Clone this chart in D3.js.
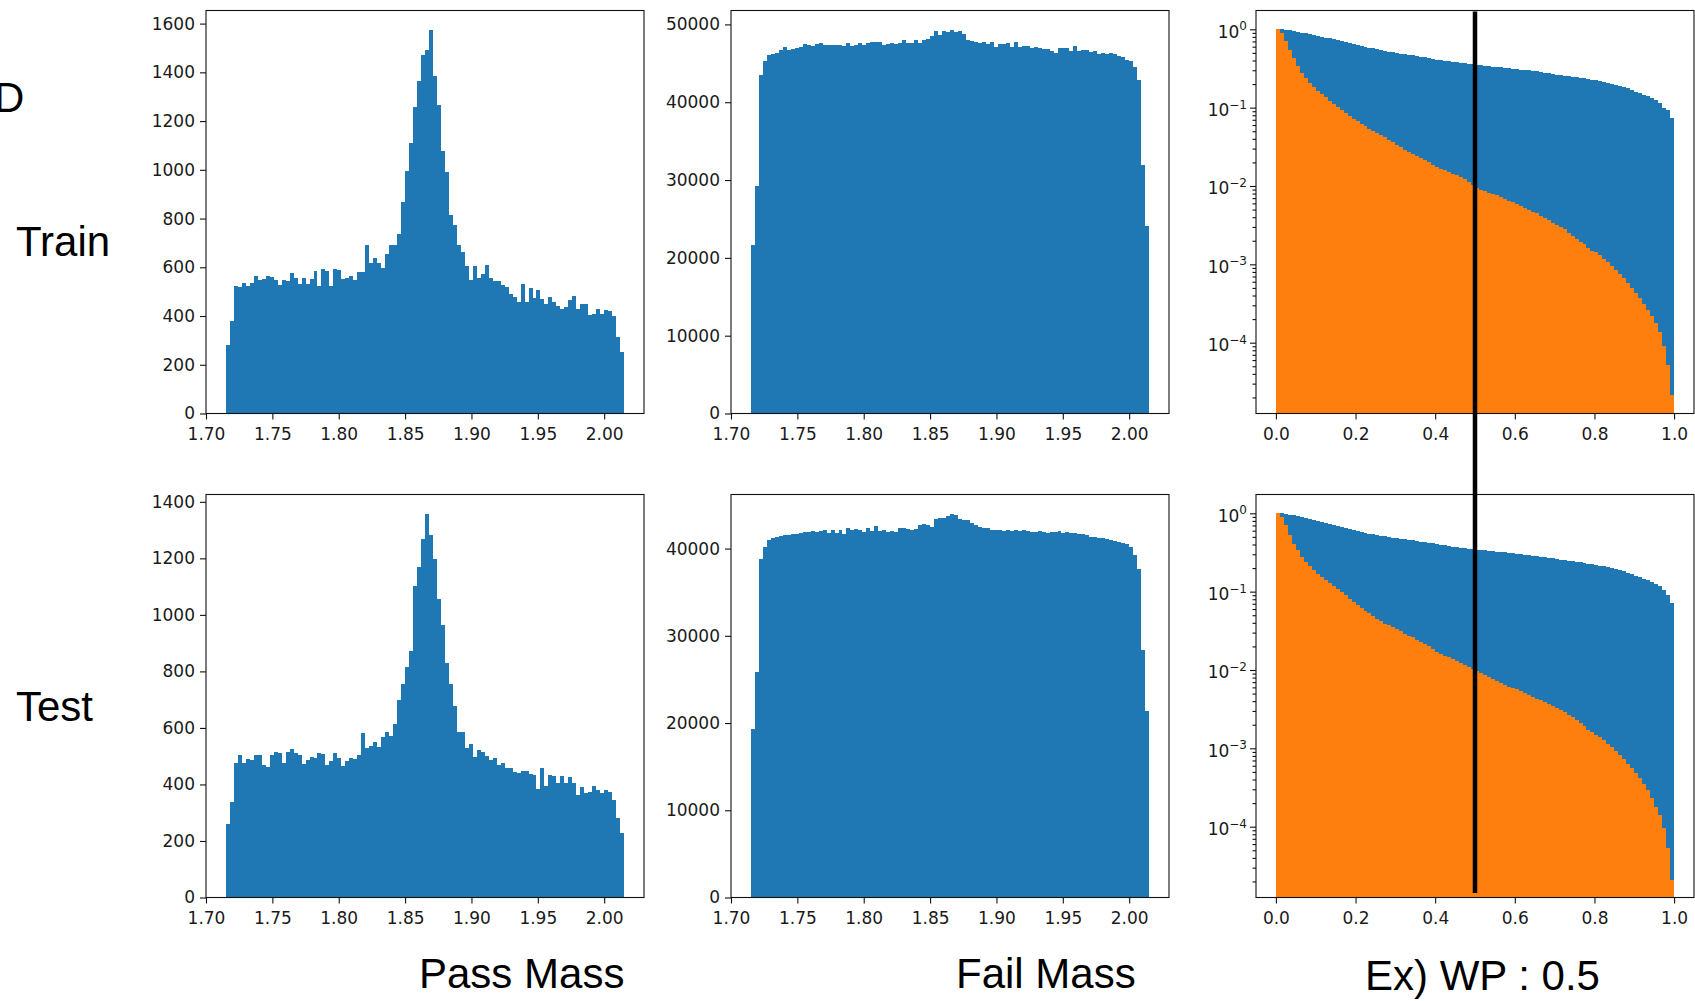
<!DOCTYPE html>
<html>
<head>
<meta charset="utf-8">
<script src="https://cdn.jsdelivr.net/npm/d3@7"></script>
<style>
  body { margin: 0; background: #fff; }
  svg { display: block; }
</style>
</head>
<body>
<svg id="fig" width="1695" height="1001"></svg>
<script>
// ---- data -------------------------------------------------------------
// D0 candidate mass histograms (100 bins on [1.715, 2.015])
const massRange = [1.715, 2.015];

const passTrain = [
  280, 380, 522, 520, 535, 522, 535, 563, 546, 553,
  563, 560, 546, 526, 546, 542, 577, 557, 533, 557,
  533, 553, 583, 523, 594, 585, 523, 594, 590, 552,
  557, 566, 549, 580, 580, 693, 617, 640, 617, 597,
  656, 693, 690, 738, 868, 997, 1110, 1257, 1366, 1472,
  1490, 1575, 1383, 1264, 1077, 993, 816, 772, 693, 663,
  605, 549, 605, 557, 574, 608, 557, 542, 542, 529,
  520, 489, 478, 458, 530, 458, 515, 474, 508, 469,
  451, 478, 458, 440, 428, 437, 465, 481, 428, 451,
  451, 403, 410, 430, 410, 424, 421, 400, 314, 253
];

const passTest = [
  259, 337, 477, 504, 477, 490, 486, 504, 504, 469,
  463, 504, 516, 510, 477, 516, 527, 512, 504, 472,
  486, 498, 492, 512, 508, 469, 483, 512, 492, 466,
  483, 495, 489, 504, 581, 530, 536, 550, 534, 569,
  584, 572, 613, 699, 754, 814, 872, 1101, 1170, 1270,
  1358, 1282, 1199, 1055, 964, 830, 757, 679, 584, 584,
  528, 543, 496, 522, 516, 501, 486, 495, 469, 475,
  459, 457, 445, 439, 448, 448, 436, 434, 383, 459,
  395, 434, 430, 406, 430, 406, 428, 404, 363, 390,
  371, 372, 395, 380, 371, 380, 375, 345, 280, 227
];

const failTrain = [
  21700, 29200, 43460, 45260, 46030, 46240, 46370, 46670, 47100, 46760,
  46880, 46970, 47100, 47440, 47310, 47180, 47440, 47610, 47310, 47400,
  47310, 47400, 47400, 47230, 47610, 47180, 47310, 47610, 47400, 47650,
  47740, 47740, 47740, 47310, 47440, 47610, 47530, 47610, 48040, 47650,
  47610, 48040, 47610, 47960, 48080, 48470, 49110, 48680, 49150, 49020,
  49320, 49020, 49110, 48810, 48040, 47830, 47740, 47650, 47740, 47530,
  47740, 47100, 47530, 47530, 47650, 47100, 47740, 47100, 47230, 47230,
  47010, 47100, 47010, 46840, 46880, 46630, 46370, 47010, 47010, 46970,
  46630, 47230, 46630, 46760, 46670, 46500, 46590, 46240, 46370, 46240,
  46370, 46160, 45950, 45860, 45430, 45300, 44580, 42870, 31970, 24050
];

const failTest = [
  19270, 25880, 38850, 40180, 40950, 41210, 41330, 41440, 41600, 41600,
  41710, 41710, 41790, 41900, 41900, 41980, 41900, 41980, 42090, 41820,
  42090, 41820, 42090, 41710, 42360, 42090, 42290, 42170, 41900, 42360,
  42010, 42550, 42010, 42090, 41900, 42010, 41900, 42400, 42360, 42210,
  42090, 42290, 42740, 42860, 42660, 42470, 43430, 43500, 43500, 43690,
  44000, 43810, 43430, 43320, 43320, 42970, 42740, 42470, 42400, 42400,
  42170, 42090, 42090, 42010, 42170, 42010, 42090, 42010, 42170, 42010,
  41900, 41900, 42010, 41900, 41790, 41900, 41900, 42010, 41790, 41900,
  41820, 41790, 41710, 41640, 41600, 41370, 41330, 41250, 41210, 41130,
  40950, 40860, 40750, 40630, 40560, 40180, 39230, 37620, 28360, 21410
];

// Efficiency above each working point (100 bins on [0, 1])
const wpRange = [0, 1];

const wpTrainBlue = [
  1.0, 1.0, 0.985, 0.97, 0.95, 0.93, 0.91, 0.89, 0.865, 0.84,
  0.82, 0.80, 0.785, 0.765, 0.75, 0.73, 0.71, 0.69, 0.67, 0.65,
  0.63, 0.615, 0.60, 0.585, 0.57, 0.56, 0.545, 0.535, 0.52, 0.51,
  0.50, 0.49, 0.48, 0.47, 0.465, 0.455, 0.445, 0.437, 0.428, 0.42,
  0.41, 0.405, 0.398, 0.39, 0.385, 0.38, 0.375, 0.368, 0.362, 0.357,
  0.352, 0.347, 0.342, 0.338, 0.334, 0.33, 0.326, 0.322, 0.318, 0.314,
  0.31, 0.306, 0.302, 0.298, 0.294, 0.29, 0.285, 0.28, 0.275, 0.268,
  0.262, 0.258, 0.254, 0.25, 0.247, 0.244, 0.24, 0.236, 0.232, 0.228,
  0.225, 0.22, 0.214, 0.208, 0.202, 0.195, 0.19, 0.184, 0.176, 0.168,
  0.16, 0.153, 0.146, 0.139, 0.132, 0.126, 0.115, 0.10, 0.092, 0.073
];

const wpTrainOrange = [
  1.0, 0.89, 0.70, 0.54, 0.43, 0.34, 0.28, 0.24, 0.205, 0.185,
  0.165, 0.15, 0.136, 0.123, 0.112, 0.102, 0.094, 0.086, 0.079, 0.072,
  0.067, 0.062, 0.058, 0.054, 0.051, 0.048, 0.045, 0.042, 0.039, 0.036,
  0.033, 0.031, 0.029, 0.027, 0.0255, 0.024, 0.0226, 0.0213, 0.02, 0.0188,
  0.0177, 0.0167, 0.0158, 0.015, 0.0143, 0.0137, 0.013, 0.0122, 0.0114, 0.0104,
  0.0093, 0.0089, 0.0086, 0.0082, 0.0079, 0.0076, 0.0072, 0.0068, 0.0065, 0.0062,
  0.0059, 0.0056, 0.0053, 0.005, 0.0047, 0.0045, 0.0042, 0.0039, 0.0037, 0.0034,
  0.0032, 0.003, 0.0028, 0.0025, 0.0023, 0.0021, 0.0019, 0.0018, 0.0016, 0.0015,
  0.00142, 0.0013, 0.00118, 0.00106, 0.00095, 0.00085, 0.00076, 0.00067, 0.00058, 0.0005,
  0.00043, 0.00037, 0.00031, 0.00026, 0.00022, 0.00018, 0.000135, 0.00009, 0.000052, 0.0000215
];

const wpTestBlue = [
  1.0, 1.0, 0.98, 0.965, 0.945, 0.92, 0.895, 0.87, 0.845, 0.82,
  0.79, 0.77, 0.75, 0.73, 0.71, 0.69, 0.67, 0.65, 0.63, 0.61,
  0.59, 0.575, 0.56, 0.55, 0.54, 0.53, 0.52, 0.51, 0.50, 0.49,
  0.48, 0.472, 0.465, 0.458, 0.45, 0.443, 0.436, 0.428, 0.42, 0.412,
  0.405, 0.398, 0.39, 0.383, 0.376, 0.37, 0.365, 0.36, 0.354, 0.349,
  0.344, 0.34, 0.336, 0.332, 0.328, 0.324, 0.32, 0.316, 0.312, 0.309,
  0.305, 0.301, 0.297, 0.293, 0.289, 0.285, 0.28, 0.275, 0.27, 0.265,
  0.26, 0.256, 0.252, 0.248, 0.244, 0.24, 0.236, 0.232, 0.228, 0.224,
  0.22, 0.215, 0.21, 0.205, 0.199, 0.193, 0.187, 0.181, 0.174, 0.167,
  0.16, 0.153, 0.147, 0.141, 0.134, 0.127, 0.118, 0.105, 0.09, 0.071
];

const wpTestOrange = [
  1.0, 0.9, 0.71, 0.53, 0.41, 0.34, 0.28, 0.24, 0.21, 0.19,
  0.17, 0.153, 0.14, 0.128, 0.118, 0.108, 0.098, 0.09, 0.081, 0.074,
  0.067, 0.062, 0.057, 0.053, 0.049, 0.045, 0.042, 0.039, 0.037, 0.035,
  0.033, 0.031, 0.029, 0.0275, 0.026, 0.0245, 0.023, 0.0215, 0.02, 0.0185,
  0.0172, 0.0162, 0.0153, 0.0145, 0.0138, 0.0131, 0.0124, 0.0117, 0.011, 0.0103,
  0.0096, 0.0091, 0.0086, 0.0081, 0.0077, 0.0073, 0.0069, 0.0065, 0.0061, 0.0059,
  0.0057, 0.0054, 0.0051, 0.0048, 0.0045, 0.0043, 0.0041, 0.0039, 0.0037, 0.0035,
  0.0033, 0.0031, 0.0029, 0.0027, 0.0025, 0.0023, 0.0021, 0.0019, 0.0017, 0.0016,
  0.0015, 0.00138, 0.00126, 0.00114, 0.00103, 0.00093, 0.00083, 0.00073, 0.00063, 0.00056,
  0.00049, 0.00042, 0.00035, 0.00029, 0.00023, 0.00018, 0.00014, 0.0000965, 0.000054, 0.000021
];

// tick values
const massTicks = [1.70, 1.75, 1.80, 1.85, 1.90, 1.95, 2.00];
const passTrainTicks = [0, 200, 400, 600, 800, 1000, 1200, 1400, 1600];
const passTestTicks = [0, 200, 400, 600, 800, 1000, 1200, 1400];
const failTrainTicks = [0, 10000, 20000, 30000, 40000, 50000];
const failTestTicks = [0, 10000, 20000, 30000, 40000];
const wpTicks = [0.0, 0.2, 0.4, 0.6, 0.8, 1.0];
const wpExponents = [0, -1, -2, -3, -4];
const wpCut = 0.5;

// text
const rowLabels = ["Train", "Test"];
const colLabels = ["Pass Mass", "Fail Mass", "Ex) WP : 0.5"];

// ---- layout -----------------------------------------------------------
const BLUE = "#1f77b4", ORANGE = "#ff7f0e";
const colX = [206, 731, 1256];
const rowY = [10.5, 494.5];
const W = 438, H = 403;
const TICK_FONT = "'DejaVu Sans', sans-serif";
const LABEL_FONT = "'Liberation Sans', Arial, sans-serif";

const svg = d3.select("#fig");

function styleAxis(sel) {
  sel.select(".domain").remove();
  sel.selectAll("line").attr("stroke", "#111").attr("stroke-width", 1.1);
  sel.selectAll("text")
    .attr("font-family", TICK_FONT)
    .attr("font-size", 17)
    .attr("fill", "#1a1a1a");
}

function frame(g) {
  g.append("rect")
    .attr("x", 0).attr("y", 0).attr("width", W).attr("height", H)
    .attr("fill", "none").attr("stroke", "#111").attr("stroke-width", 1.1);
}

function padded(r) {
  const span = r[1] - r[0];
  return [r[0] - 0.05 * span, r[1] + 0.05 * span];
}

function bars(g, counts, range, x, y, baseY, color) {
  const step = (range[1] - range[0]) / counts.length;
  g.append("g").selectAll("rect").data(counts).join("rect")
    .attr("x", (d, i) => x(range[0] + i * step))
    .attr("width", (d, i) => x(range[0] + (i + 1) * step) - x(range[0] + i * step))
    .attr("y", d => y(d))
    .attr("height", d => baseY - y(d))
    .attr("fill", color)
    .attr("shape-rendering", "crispEdges");
}

function massPanel(col, row, counts, yTicks) {
  const g = svg.append("g").attr("transform", `translate(${colX[col]},${rowY[row]})`);
  const x = d3.scaleLinear().domain(padded(massRange)).range([0, W]);
  const y = d3.scaleLinear().domain([0, d3.max(counts) * 1.05]).range([H, 0]);
  bars(g, counts, massRange, x, y, y(0), BLUE);
  g.append("g").attr("transform", `translate(0,${H})`)
    .call(d3.axisBottom(x).tickValues(massTicks).tickFormat(d3.format(".2f"))
      .tickSize(6).tickPadding(8))
    .call(styleAxis);
  g.append("g")
    .call(d3.axisLeft(y).tickValues(yTicks).tickFormat(d3.format("d"))
      .tickSize(6).tickPadding(5))
    .call(styleAxis);
  frame(g);
}

const wpY = d3.scaleLog().domain([Math.pow(10, -4.904), Math.pow(10, 0.24)]).range([H, 0]);
const wpX = d3.scaleLinear().domain(padded(wpRange)).range([0, W]);

function wpPanel(col, row, blue, orange) {
  const g = svg.append("g").attr("transform", `translate(${colX[col]},${rowY[row]})`);
  bars(g, blue, wpRange, wpX, wpY, H, BLUE);
  bars(g, orange, wpRange, wpX, wpY, H, ORANGE);

  g.append("g").attr("transform", `translate(0,${H})`)
    .call(d3.axisBottom(wpX).tickValues(wpTicks).tickFormat(d3.format(".1f"))
      .tickSize(6).tickPadding(8))
    .call(styleAxis);

  // minor log ticks
  const [lo, hi] = wpY.domain();
  const minors = [];
  for (let e = -5; e <= 0; e++) {
    for (let m = 2; m <= 9; m++) {
      const v = m * Math.pow(10, e);
      if (v >= lo && v <= hi) minors.push(v);
    }
  }
  g.append("g")
    .call(d3.axisLeft(wpY).tickValues(minors).tickFormat("").tickSize(3.5))
    .call(styleAxis);

  // major log ticks with 10^n labels
  const majors = wpExponents.map(e => Math.pow(10, e));
  g.append("g")
    .call(d3.axisLeft(wpY).tickValues(majors).tickFormat("").tickSize(6))
    .call(styleAxis);
  const lab = g.append("g").selectAll("text").data(wpExponents).join("text")
    .attr("x", -9)
    .attr("y", e => wpY(Math.pow(10, e)) + 8.5)
    .attr("text-anchor", "end")
    .attr("font-family", TICK_FONT)
    .attr("font-size", 17)
    .attr("fill", "#1a1a1a");
  lab.append("tspan").text("10");
  lab.append("tspan")
    .attr("dy", -7.5)
    .attr("font-size", 12)
    .text(e => (e < 0 ? "\u2212" + (-e) : String(e)));

  frame(g);
}

massPanel(0, 0, passTrain, passTrainTicks);
massPanel(1, 0, failTrain, failTrainTicks);
wpPanel(2, 0, wpTrainBlue, wpTrainOrange);
massPanel(0, 1, passTest, passTestTicks);
massPanel(1, 1, failTest, failTestTicks);
wpPanel(2, 1, wpTestBlue, wpTestOrange);

// working-point cut spanning both efficiency panels
const cutX = colX[2] + wpX(wpCut);
svg.append("line")
  .attr("x1", cutX).attr("x2", cutX)
  .attr("y1", rowY[0] + 1).attr("y2", rowY[1] + H - 4.5)
  .attr("stroke", "#000").attr("stroke-width", 4.5);

// row and column captions
const big = (x, y, t) => svg.append("text")
  .attr("x", x).attr("y", y)
  .attr("font-family", LABEL_FONT).attr("font-size", 42)
  .attr("fill", "#000").text(t);

big(-6, 112, "D");
big(16, 256, rowLabels[0]);
big(16, 721, rowLabels[1]);
big(419, 988, colLabels[0]);
big(956, 988, colLabels[1]);
big(1365, 990, colLabels[2]);
</script>
</body>
</html>
